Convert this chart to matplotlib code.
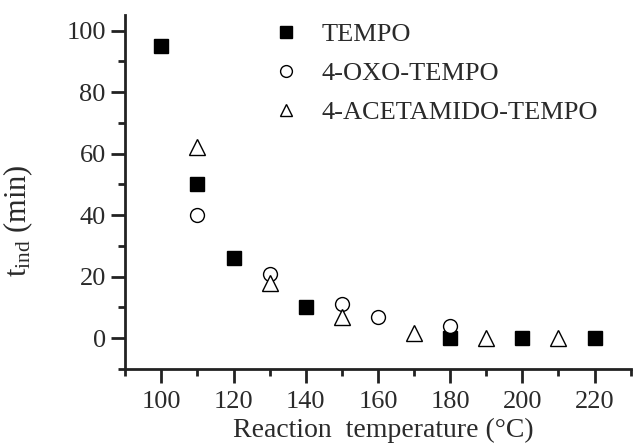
import matplotlib
matplotlib.use('Agg')
import matplotlib.pyplot as plt

plt.rcParams['font.family'] = ['Liberation Serif', 'DejaVu Serif']
plt.rcParams['mathtext.fontset'] = 'custom'
plt.rcParams['mathtext.rm'] = 'Liberation Serif'
plt.rcParams['mathtext.it'] = 'Liberation Serif:italic'

# induction time (min) vs reaction temperature (C)
tempo_T = [100, 110, 120, 140, 180, 200, 220]
tempo_t = [95, 50, 26, 10, 0, 0, 0]
oxo_T = [110, 130, 150, 160, 180]
oxo_t = [40, 21, 11, 7, 4]
acet_T = [110, 130, 150, 170, 190, 210]
acet_t = [62, 18, 7, 1.5, 0, 0]

fig = plt.figure(figsize=(6.39, 4.46), dpi=100)
ax = fig.add_axes([0.196, 0.173, 0.791, 0.793])

txt = '#2a2a2a'
ax.plot(tempo_T, tempo_t, 's', ms=10, color='black', label='TEMPO')
ax.plot(oxo_T, oxo_t, 'o', ms=10, mfc='white', mec='black', mew=1.0,
        label='4-OXO-TEMPO')
ax.plot(acet_T, acet_t, '^', ms=11, mfc='white', mec='black', mew=1.0,
        label='4-ACETAMIDO-TEMPO')

ax.set_xlim(90, 230)
ax.set_ylim(-10, 105)
ax.set_xticks(range(100, 221, 20))
ax.set_xticks(range(90, 231, 20), minor=True)
ax.set_yticks(range(0, 101, 20))
ax.set_yticks(range(-10, 91, 20), minor=True)

for s in ['top', 'right']:
    ax.spines[s].set_visible(False)
for s in ['left', 'bottom']:
    ax.spines[s].set_linewidth(2.0)
    ax.spines[s].set_color('#222222')

ax.tick_params(which='major', direction='out', length=10, width=2.0,
               labelsize=19, colors='#222222', labelcolor=txt)
ax.tick_params(axis='x', which='major', pad=6)
ax.tick_params(axis='y', which='major', pad=4)
ax.tick_params(which='minor', direction='out', length=5, width=2.0,
               colors='#222222')

ax.set_xlabel('Reaction  temperature (°C)', fontsize=20, color=txt)
ax.xaxis.set_label_coords(0.51, -0.138)
ax.set_ylabel(r'$\mathrm{t}_{\mathrm{ind}}$ (min)', fontsize=22, color=txt)
ax.yaxis.set_label_coords(-0.178, 0.418)

ax.legend(loc='upper left', bbox_to_anchor=(0.25, 1.045), frameon=False,
          fontsize=19, markerscale=0.85, handlelength=0.8, handletextpad=0.95,
          labelspacing=0.58, labelcolor=txt)

fig.savefig('out.png', dpi=100)
